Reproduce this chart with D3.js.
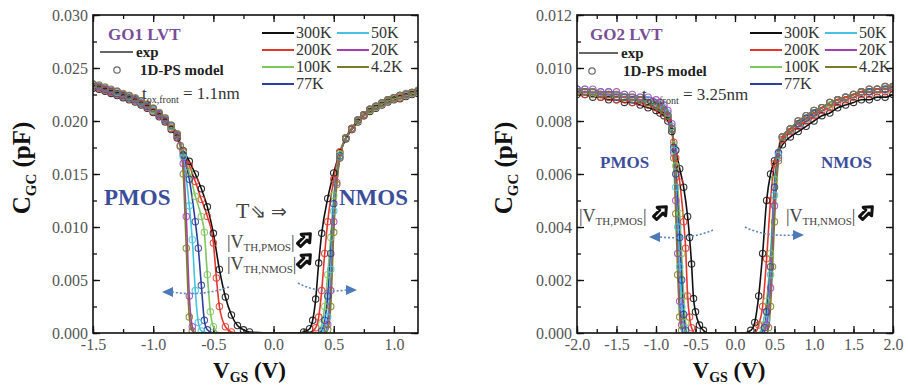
<!DOCTYPE html>
<head>
  <meta charset="utf-8">
  <script src="https://d3js.org/d3.v7.min.js"></script>
  <style>
    body {
      margin: 0;
      background: #fff;
      font-family: "Liberation Serif", "Times New Roman", serif;
    }
    .tick text {
      fill: #555;
      font-size: 16px;
      font-family: "Liberation Serif", serif;
    }
    .tick line {
      stroke: #111;
      stroke-width: 1.3;
    }
    .domain {
      display: none;
    }
  </style>
</head>

<body>
  <svg id="chart" width="908" height="387"></svg>

  <script>
    var temps = ["300K", "200K", "100K", "77K", "50K", "20K", "4.2K"];
    var colors = ["#111111", "#e5362c", "#80c660", "#2d3f9c", "#43c3df", "#a43fb2", "#7c7a2c"];

    var go1XTicks = [-1.5, -1.0, -0.5, 0.0, 0.5, 1.0];
    var go1YTicks = [0, 0.005, 0.010, 0.015, 0.020, 0.025, 0.030];
    var go2XTicks = [-2.0, -1.5, -1.0, -0.5, 0.0, 0.5, 1.0, 1.5, 2.0];
    var go2YTicks = [0, 0.002, 0.004, 0.006, 0.008, 0.010, 0.012];

    // GO1 LVT, [VGS (V), CGC (pF)]
    var go1_300K = [[-1.5,.0231],[-1.45,.0230],[-1.4,.0228],[-1.35,.0226],[-1.3,.0224],[-1.25,.0222],[-1.2,.0220],[-1.15,.0218],[-1.1,.0215],[-1.05,.0212],[-1.0,.0208],[-0.95,.0204],[-0.9,.0199],[-0.85,.0192],[-0.8,.0184],[-0.75,.0172],[-0.7,.0162],[-0.65,.0150],[-0.6,.0136],[-0.55,.0119],[-0.5,.0094],[-0.45,.0060],[-0.4,.0034],[-0.35,.0017],[-0.3,.0007],[-0.25,.0003],[-0.2,.0001],[0,0],[0.2,0],[0.25,.0001],[0.3,.0004],[0.325,.0012],[0.35,.0032],[0.375,.0066],[0.4,.0094],[0.45,.0127],[0.5,.0151],[0.55,.0170],[0.6,.0183],[0.65,.0192],[0.7,.0199],[0.75,.0205],[0.8,.0209],[0.85,.0212],[0.9,.0215],[0.95,.0218],[1.0,.0220],[1.05,.0221],[1.1,.0223],[1.15,.0225],[1.2,.0226]];
    var go1_200K = [[-1.5,.0232],[-1.45,.0231],[-1.4,.0229],[-1.35,.0227],[-1.3,.0225],[-1.25,.0223],[-1.2,.0221],[-1.15,.0219],[-1.1,.0216],[-1.05,.0213],[-1.0,.0209],[-0.95,.0205],[-0.9,.0200],[-0.85,.0193],[-0.8,.0185],[-0.75,.0171],[-0.7,.0158],[-0.65,.0143],[-0.6,.0126],[-0.55,.0110],[-0.5,.0085],[-0.475,.0052],[-0.45,.0025],[-0.4,.0006],[-0.35,.0001],[-0.3,0],[0,0],[0.3,0],[0.35,.0005],[0.375,.0015],[0.4,.0040],[0.425,.0075],[0.45,.0105],[0.5,.0145],[0.55,.0171],[0.6,.0184],[0.65,.0192],[0.7,.0200],[0.75,.0205],[0.8,.0210],[0.85,.0213],[0.9,.0216],[0.95,.0219],[1.0,.0221],[1.05,.0222],[1.1,.0224],[1.15,.0226],[1.2,.0227]];
    var go1_100K = [[-1.5,.0233],[-1.45,.0232],[-1.4,.0230],[-1.35,.0228],[-1.3,.0226],[-1.25,.0224],[-1.2,.0222],[-1.15,.0220],[-1.1,.0217],[-1.05,.0214],[-1.0,.0210],[-0.95,.0206],[-0.9,.0201],[-0.85,.0194],[-0.8,.0186],[-0.75,.0170],[-0.7,.0152],[-0.65,.0129],[-0.6,.0110],[-0.575,.0095],[-0.55,.0055],[-0.525,.0020],[-0.5,.0006],[-0.45,0],[0,0],[0.375,0],[0.4,.0008],[0.425,.0025],[0.45,.0055],[0.475,.0090],[0.5,.0130],[0.55,.0169],[0.6,.0184],[0.65,.0193],[0.7,.0200],[0.75,.0206],[0.8,.0210],[0.85,.0213],[0.9,.0216],[0.95,.0219],[1.0,.0221],[1.05,.0223],[1.1,.0224],[1.15,.0226],[1.2,.0227]];
    var go1_77K = [[-1.5,.0233],[-1.45,.0232],[-1.4,.0230],[-1.35,.0228],[-1.3,.0226],[-1.25,.0224],[-1.2,.0222],[-1.15,.0220],[-1.1,.0217],[-1.05,.0214],[-1.0,.0211],[-0.95,.0206],[-0.9,.0201],[-0.85,.0195],[-0.8,.0186],[-0.75,.0168],[-0.7,.0145],[-0.65,.0105],[-0.625,.0080],[-0.6,.0045],[-0.575,.0012],[-0.55,.0003],[-0.5,0],[0,0],[0.375,0],[0.4,.0002],[0.425,.0012],[0.45,.0035],[0.475,.0075],[0.5,.0122],[0.55,.0167],[0.6,.0184],[0.65,.0193],[0.7,.0201],[0.75,.0206],[0.8,.0211],[0.85,.0214],[0.9,.0217],[0.95,.0220],[1.0,.0222],[1.05,.0224],[1.1,.0225],[1.15,.0227],[1.2,.0228]];
    var go1_50K = [[-1.5,.0234],[-1.45,.0233],[-1.4,.0231],[-1.35,.0229],[-1.3,.0227],[-1.25,.0225],[-1.2,.0223],[-1.15,.0221],[-1.1,.0218],[-1.05,.0215],[-1.0,.0211],[-0.95,.0207],[-0.9,.0202],[-0.85,.0195],[-0.8,.0187],[-0.75,.0166],[-0.7,.0120],[-0.675,.0088],[-0.65,.0040],[-0.625,.0010],[-0.6,.0002],[-0.55,0],[0,0],[0.4,0],[0.425,.0005],[0.45,.0015],[0.475,.0060],[0.5,.0115],[0.55,.0166],[0.6,.0184],[0.65,.0193],[0.7,.0201],[0.75,.0206],[0.8,.0211],[0.85,.0214],[0.9,.0217],[0.95,.0220],[1.0,.0222],[1.05,.0224],[1.1,.0225],[1.15,.0227],[1.2,.0228]];
    var go1_20K = [[-1.5,.0235],[-1.45,.0233],[-1.4,.0231],[-1.35,.0229],[-1.3,.0228],[-1.25,.0225],[-1.2,.0224],[-1.15,.0221],[-1.1,.0219],[-1.05,.0215],[-1.0,.0212],[-0.95,.0207],[-0.9,.0202],[-0.85,.0196],[-0.8,.0187],[-0.775,.0177],[-0.75,.0160],[-0.725,.0110],[-0.7,.0035],[-0.675,.0006],[-0.65,0],[0,0],[0.425,0],[0.45,.0008],[0.475,.0040],[0.5,.0105],[0.525,.0142],[0.55,.0165],[0.6,.0184],[0.65,.0193],[0.7,.0201],[0.75,.0206],[0.8,.0211],[0.85,.0214],[0.9,.0217],[0.95,.0220],[1.0,.0222],[1.05,.0224],[1.1,.0225],[1.15,.0227],[1.2,.0228]];
    var go1_4K = [[-1.5,.0235],[-1.45,.0234],[-1.4,.0232],[-1.35,.0230],[-1.3,.0228],[-1.25,.0226],[-1.2,.0224],[-1.15,.0222],[-1.1,.0219],[-1.05,.0216],[-1.0,.0212],[-0.95,.0208],[-0.9,.0203],[-0.85,.0196],[-0.8,.0188],[-0.775,.0176],[-0.75,.0150],[-0.725,.0080],[-0.7,.0015],[-0.675,.0002],[-0.65,0],[0,0],[0.425,0],[0.45,.0003],[0.475,.0025],[0.5,.0095],[0.525,.0140],[0.55,.0165],[0.6,.0184],[0.65,.0193],[0.7,.0201],[0.75,.0206],[0.8,.0211],[0.85,.0214],[0.9,.0217],[0.95,.0220],[1.0,.0222],[1.05,.0224],[1.1,.0226],[1.15,.0227],[1.2,.0229]];

    // GO2 LVT, [VGS (V), CGC (pF)]
    var go2_300K = [[-2.0,.0090],[-1.9,.0090],[-1.8,.0089],[-1.7,.0089],[-1.6,.0088],[-1.5,.0088],[-1.4,.0087],[-1.3,.0087],[-1.2,.0086],[-1.1,.0085],[-1.0,.0084],[-0.95,.0083],[-0.9,.0082],[-0.85,.0080],[-0.8,.0076],[-0.75,.0069],[-0.7,.0062],[-0.65,.0055],[-0.6,.0044],[-0.575,.0036],[-0.55,.0026],[-0.525,.0013],[-0.5,.0008],[-0.45,.0003],[-0.4,.0001],[-0.35,0],[0,0],[0.1,0],[0.2,.0001],[0.25,.0004],[0.3,.0014],[0.35,.0030],[0.4,.0050],[0.45,.0060],[0.5,.0065],[0.6,.0071],[0.7,.0074],[0.8,.0076],[0.9,.0078],[1.0,.0080],[1.1,.0082],[1.2,.0083],[1.3,.0085],[1.4,.0086],[1.5,.0087],[1.6,.0088],[1.7,.0088],[1.8,.0089],[1.9,.0089],[2.0,.0090]];
    var go2_200K = [[-2.0,.0091],[-1.9,.0090],[-1.8,.0090],[-1.7,.0089],[-1.6,.0089],[-1.5,.0088],[-1.4,.0088],[-1.3,.0087],[-1.2,.0087],[-1.1,.0086],[-1.0,.0085],[-0.95,.0084],[-0.9,.0083],[-0.85,.0081],[-0.8,.0077],[-0.775,.0072],[-0.75,.0066],[-0.7,.0057],[-0.65,.0042],[-0.625,.0032],[-0.6,.0014],[-0.575,.0006],[-0.55,.0002],[-0.5,0],[0,0],[0.25,0],[0.3,.0003],[0.35,.0010],[0.4,.0028],[0.45,.0050],[0.5,.0064],[0.6,.0073],[0.7,.0076],[0.8,.0078],[0.9,.0080],[1.0,.0082],[1.1,.0084],[1.2,.0085],[1.3,.0087],[1.4,.0088],[1.5,.0089],[1.6,.0090],[1.7,.0090],[1.8,.0091],[1.9,.0091],[2.0,.0092]];
    var go2_100K = [[-2.0,.0091],[-1.9,.0091],[-1.8,.0090],[-1.7,.0090],[-1.6,.0090],[-1.5,.0089],[-1.4,.0089],[-1.3,.0088],[-1.2,.0088],[-1.1,.0087],[-1.0,.0086],[-0.95,.0085],[-0.9,.0084],[-0.85,.0082],[-0.8,.0077],[-0.775,.0071],[-0.75,.0063],[-0.7,.0045],[-0.675,.0030],[-0.65,.0014],[-0.625,.0004],[-0.6,0],[0,0],[0.3,0],[0.35,.0003],[0.4,.0012],[0.45,.0030],[0.5,.0058],[0.55,.0068],[0.6,.0074],[0.7,.0077],[0.8,.0079],[0.9,.0081],[1.0,.0083],[1.1,.0085],[1.2,.0086],[1.3,.0088],[1.4,.0089],[1.5,.0090],[1.6,.0091],[1.7,.0091],[1.8,.0092],[1.9,.0092],[2.0,.0093]];
    var go2_77K = [[-2.0,.0092],[-1.9,.0091],[-1.8,.0091],[-1.7,.0090],[-1.6,.0090],[-1.5,.0089],[-1.4,.0089],[-1.3,.0088],[-1.2,.0088],[-1.1,.0087],[-1.0,.0086],[-0.95,.0085],[-0.9,.0084],[-0.85,.0082],[-0.8,.0077],[-0.775,.0070],[-0.75,.0060],[-0.7,.0036],[-0.675,.0020],[-0.65,.0007],[-0.625,.0001],[-0.6,0],[0,0],[0.3,0],[0.375,.0002],[0.4,.0008],[0.45,.0025],[0.5,.0055],[0.55,.0068],[0.6,.0074],[0.7,.0077],[0.8,.0079],[0.9,.0081],[1.0,.0083],[1.1,.0085],[1.2,.0087],[1.3,.0088],[1.4,.0089],[1.5,.0090],[1.6,.0091],[1.7,.0091],[1.8,.0092],[1.9,.0092],[2.0,.0093]];
    var go2_50K = [[-2.0,.0092],[-1.9,.0092],[-1.8,.0091],[-1.7,.0091],[-1.6,.0091],[-1.5,.0090],[-1.4,.0090],[-1.3,.0089],[-1.2,.0089],[-1.1,.0088],[-1.0,.0087],[-0.95,.0086],[-0.9,.0085],[-0.85,.0083],[-0.8,.0078],[-0.775,.0069],[-0.75,.0055],[-0.725,.0040],[-0.7,.0025],[-0.675,.0010],[-0.65,.0002],[-0.6,0],[0,0],[0.3,0],[0.4,.0005],[0.45,.0022],[0.5,.0052],[0.55,.0067],[0.6,.0074],[0.7,.0077],[0.8,.0080],[0.9,.0082],[1.0,.0084],[1.1,.0085],[1.2,.0087],[1.3,.0088],[1.4,.0089],[1.5,.0090],[1.6,.0091],[1.7,.0092],[1.8,.0092],[1.9,.0093],[2.0,.0093]];
    var go2_20K = [[-2.0,.0092],[-1.9,.0092],[-1.8,.0092],[-1.7,.0091],[-1.6,.0091],[-1.5,.0091],[-1.4,.0090],[-1.3,.0090],[-1.2,.0089],[-1.1,.0089],[-1.0,.0088],[-0.95,.0087],[-0.9,.0086],[-0.85,.0084],[-0.8,.0079],[-0.775,.0068],[-0.75,.0050],[-0.725,.0030],[-0.7,.0012],[-0.675,.0003],[-0.65,0],[0,0],[0.35,0],[0.4,.0003],[0.45,.0017],[0.5,.0048],[0.55,.0066],[0.6,.0074],[0.7,.0077],[0.8,.0080],[0.9,.0082],[1.0,.0084],[1.1,.0085],[1.2,.0087],[1.3,.0088],[1.4,.0089],[1.5,.0090],[1.6,.0091],[1.7,.0092],[1.8,.0092],[1.9,.0093],[2.0,.0093]];
    var go2_4K = [[-2.0,.0091],[-1.9,.0091],[-1.8,.0091],[-1.7,.0090],[-1.6,.0090],[-1.5,.0090],[-1.4,.0089],[-1.3,.0089],[-1.2,.0088],[-1.1,.0087],[-1.0,.0086],[-0.95,.0085],[-0.9,.0084],[-0.85,.0082],[-0.8,.0077],[-0.775,.0066],[-0.75,.0045],[-0.725,.0022],[-0.7,.0006],[-0.675,.0001],[-0.65,0],[0,0],[0.4,0],[0.425,.0002],[0.45,.0010],[0.475,.0025],[0.5,.0042],[0.55,.0065],[0.6,.0074],[0.7,.0077],[0.8,.0080],[0.9,.0082],[1.0,.0084],[1.1,.0085],[1.2,.0087],[1.3,.0088],[1.4,.0089],[1.5,.0090],[1.6,.0091],[1.7,.0092],[1.8,.0092],[1.9,.0093],[2.0,.0093]];

    var go1Curves = [go1_300K, go1_200K, go1_100K, go1_77K, go1_50K, go1_20K, go1_4K];
    var go2Curves = [go2_300K, go2_200K, go2_100K, go2_77K, go2_50K, go2_20K, go2_4K];

    var svg = d3.select("#chart");
    var serif = "Liberation Serif, Times New Roman, serif";

    function addSub(sel, main, sub, rest, subSize, shift) {
      sel.append("tspan").text(main);
      sel.append("tspan").attr("font-size", subSize).attr("dy", shift).text(sub);
      sel.append("tspan").attr("dy", -shift).text(rest);
    }

    function blackArrow(x0, y0) {
      svg.append("path")
        .attr("transform", "translate(" + x0 + "," + y0 + ") rotate(-45)")
        .attr("d", "M-7,-2.2 L2,-2.2 L2,-6 L9,0 L2,6 L2,2.2 L-7,2.2 Z")
        .attr("fill", "#fff")
        .attr("stroke", "#111")
        .attr("stroke-width", 3)
        .attr("stroke-linejoin", "round");
    }

    function blueArrow(pts, dir) {
      svg.append("path")
        .attr("d", "M" + pts[0] + " Q" + pts[1] + " " + pts[2])
        .attr("fill", "none")
        .attr("stroke", "#5a86c2")
        .attr("stroke-width", 1.6)
        .attr("stroke-dasharray", "2,2");
      var tip = pts[2];
      svg.append("path")
        .attr("transform", "translate(" + tip[0] + "," + tip[1] + ") scale(" + dir + ",1)")
        .attr("d", "M0,-5 L11,0 L0,5 Z")
        .attr("fill", "#4d7ab8");
    }

    function panel(o) {
      var x = d3.scaleLinear().domain(o.xDomain).range([o.left, o.right]);
      var y = d3.scaleLinear().domain(o.yDomain).range([o.bottom, o.top]);
      var g = svg.append("g");

      var clipId = "clip" + o.id;
      svg.append("clipPath").attr("id", clipId)
        .append("rect")
        .attr("x", o.left).attr("y", o.top)
        .attr("width", o.right - o.left).attr("height", o.bottom - o.top);

      var xMinor = d3.range(o.xDomain[0], o.xDomain[1] + 1e-9, o.xMinorStep);
      var yMinor = d3.range(o.yDomain[0], o.yDomain[1] + 1e-9, o.yMinorStep);
      var fx = function(d) { return d.toFixed(1); };
      var fy = function(d) { return d.toFixed(3); };

      // minor ticks, all four sides
      g.append("g").attr("transform", "translate(0," + o.bottom + ")")
        .call(d3.axisBottom(x).tickValues(xMinor).tickSize(-4).tickFormat(""));
      g.append("g").attr("transform", "translate(0," + o.top + ")")
        .call(d3.axisTop(x).tickValues(xMinor).tickSize(-4).tickFormat(""));
      g.append("g").attr("transform", "translate(" + o.left + ",0)")
        .call(d3.axisLeft(y).tickValues(yMinor).tickSize(-4).tickFormat(""));
      g.append("g").attr("transform", "translate(" + o.right + ",0)")
        .call(d3.axisRight(y).tickValues(yMinor).tickSize(-4).tickFormat(""));

      // major ticks
      g.append("g").attr("transform", "translate(0," + o.bottom + ")")
        .call(d3.axisBottom(x).tickValues(o.xTicks).tickSize(-7).tickPadding(6).tickFormat(fx));
      g.append("g").attr("transform", "translate(0," + o.top + ")")
        .call(d3.axisTop(x).tickValues(o.xTicks).tickSize(-7).tickFormat(""));
      g.append("g").attr("transform", "translate(" + o.left + ",0)")
        .call(d3.axisLeft(y).tickValues(o.yTicks).tickSize(-7).tickPadding(5).tickFormat(fy));
      g.append("g").attr("transform", "translate(" + o.right + ",0)")
        .call(d3.axisRight(y).tickValues(o.yTicks).tickSize(-7).tickFormat(""));

      var line = d3.line()
        .x(function(d) { return x(d[0]); })
        .y(function(d) { return y(d[1]); })
        .curve(d3.curveMonotoneX);

      var plot = g.append("g").attr("clip-path", "url(#" + clipId + ")");
      o.curves.forEach(function(c, i) {
        plot.append("path")
          .attr("d", line(c))
          .attr("fill", "none")
          .attr("stroke", colors[i])
          .attr("stroke-width", 1.6);
      });
      o.curves.forEach(function(c, i) {
        plot.selectAll(null)
          .data(c.filter(function(d) { return d[1] > 0; }))
          .enter().append("circle")
          .attr("cx", function(d) { return x(d[0]); })
          .attr("cy", function(d) { return y(d[1]); })
          .attr("r", 3.2)
          .attr("fill", "none")
          .attr("stroke", colors[i])
          .attr("stroke-width", 1.1)
          .attr("stroke-opacity", 0.85);
      });

      g.append("rect")
        .attr("x", o.left).attr("y", o.top)
        .attr("width", o.right - o.left).attr("height", o.bottom - o.top)
        .attr("fill", "none")
        .attr("stroke", "#111")
        .attr("stroke-width", 1.6);

      // axis titles
      var yt = svg.append("text")
        .attr("transform", "translate(" + o.yTitleX + "," + ((o.top + o.bottom) / 2 - 6) + ") rotate(-90)")
        .attr("text-anchor", "middle")
        .attr("font-family", serif).attr("font-weight", "bold").attr("font-size", "25px")
        .attr("fill", "#111");
      addSub(yt, "C", "GC", " (pF)", "15px", 6);

      var xt = svg.append("text")
        .attr("x", (o.left + o.right) / 2 - 6).attr("y", 378)
        .attr("text-anchor", "middle")
        .attr("font-family", serif).attr("font-weight", "bold").attr("font-size", "23px")
        .attr("fill", "#111");
      addSub(xt, "V", "GS", " (V)", "14px", 4);

      // title and model legend
      svg.append("text")
        .attr("x", o.leg.title[0]).attr("y", o.leg.title[1])
        .attr("font-family", serif).attr("font-weight", "bold").attr("font-size", "17px")
        .attr("fill", "#7a4d98").text(o.name);
      svg.append("line")
        .attr("x1", o.leg.exp[0]).attr("x2", o.leg.exp[1])
        .attr("y1", o.leg.exp[2]).attr("y2", o.leg.exp[2])
        .attr("stroke", "#333").attr("stroke-width", 1.6);
      svg.append("text")
        .attr("x", o.leg.exp[1] + 3).attr("y", o.leg.exp[2] + 5)
        .attr("font-family", serif).attr("font-weight", "bold").attr("font-size", "15px")
        .attr("fill", "#222").text("exp");
      svg.append("circle")
        .attr("cx", o.leg.model[0]).attr("cy", o.leg.model[1]).attr("r", 3.2)
        .attr("fill", "none").attr("stroke", "#666").attr("stroke-width", 1.2);
      svg.append("text")
        .attr("x", o.leg.model[2]).attr("y", o.leg.model[1] + 5)
        .attr("font-family", serif).attr("font-weight", "bold").attr("font-size", "15px")
        .attr("fill", "#222").text("1D-PS model");
      var tox = svg.append("text")
        .attr("x", o.leg.tox[0]).attr("y", o.leg.tox[1])
        .attr("font-family", serif).attr("font-size", "17px").attr("fill", "#333");
      addSub(tox, "t", "ox,front", " = " + o.tox, "10px", 4);

      // temperature legend
      temps.forEach(function(t, i) {
        var col = i < 4 ? 0 : 1;
        var row = i < 4 ? i : i - 4;
        var lx = o.leg.tcol[col];
        var ly = o.leg.trow[row];
        svg.append("line")
          .attr("x1", lx).attr("x2", lx + 32).attr("y1", ly).attr("y2", ly)
          .attr("stroke", colors[i]).attr("stroke-width", 2);
        svg.append("text")
          .attr("x", lx + 34).attr("y", ly + 5)
          .attr("font-family", serif).attr("font-size", "16px").attr("fill", "#333")
          .text(t);
      });

      // device labels
      o.dev.forEach(function(d) {
        svg.append("text")
          .attr("x", d[1]).attr("y", d[2])
          .attr("font-family", serif).attr("font-weight", "bold").attr("font-size", d[3])
          .attr("fill", "#3b4d9b").text(d[0]);
      });

      // threshold labels
      o.vth.forEach(function(d) {
        var t = svg.append("text")
          .attr("x", d[1]).attr("y", d[2])
          .attr("font-family", serif).attr("font-size", "18px").attr("fill", "#444");
        t.append("tspan").text("|V");
        t.append("tspan").attr("font-size", "11px").attr("dy", 3).text(d[0]);
        t.append("tspan").attr("dy", -3).text("|");
        blackArrow(d[3], d[4]);
      });

      o.blue.forEach(function(b) { blueArrow(b[0], b[1]); });
    }

    panel({
      id: 1, name: "GO1 LVT", tox: "1.1nm",
      left: 93, right: 418, top: 15, bottom: 333,
      xDomain: [-1.5, 1.2], yDomain: [0, 0.030],
      xTicks: go1XTicks, yTicks: go1YTicks,
      xMinorStep: 0.25, yMinorStep: 0.0025,
      curves: go1Curves,
      yTitleX: 30,
      leg: {
        title: [108, 40], exp: [100, 133, 52], model: [117, 70, 140], tox: [142, 99],
        tcol: [262, 337], trow: [33, 50, 67, 84]
      },
      dev: [["PMOS", 104, 205, "23px"], ["NMOS", 339, 205, "23px"]],
      vth: [["TH,PMOS", 227, 248, 304, 240], ["TH,NMOS", 227, 270, 304, 261]],
      blue: [[[[229, 287], [200, 297], [173, 292]], -1], [[[298, 283], [318, 294], [346, 290]], 1]]
    });

    panel({
      id: 2, name: "GO2 LVT", tox: "3.25nm",
      left: 577, right: 893, top: 15, bottom: 333,
      xDomain: [-2.0, 2.0], yDomain: [0, 0.012],
      xTicks: go2XTicks, yTicks: go2YTicks,
      xMinorStep: 0.25, yMinorStep: 0.001,
      curves: go2Curves,
      yTitleX: 512,
      leg: {
        title: [590, 40], exp: [579, 618, 53], model: [592, 71, 623], tox: [642, 100],
        tcol: [750, 825], trow: [33, 50, 67, 84]
      },
      dev: [["PMOS", 600, 168, "17px"], ["NMOS", 821, 168, "17px"]],
      vth: [["TH,PMOS", 579, 222, 660, 213], ["TH,NMOS", 786, 222, 866, 213]],
      blue: [[[[713, 230], [690, 240], [660, 237]], -1], [[[745, 227], [765, 237], [793, 235]], 1]]
    });

    // T arrow note (left panel)
    svg.append("text").attr("x", 236).attr("y", 218)
      .attr("font-family", serif).attr("font-size", "22px").attr("fill", "#444").text("T");
    svg.append("text").attr("x", 250).attr("y", 218)
      .attr("font-family", "DejaVu Sans").attr("font-size", "19px").attr("fill", "#444").text("\u21d8");
    svg.append("text").attr("x", 271).attr("y", 218)
      .attr("font-family", "DejaVu Sans").attr("font-size", "19px").attr("fill", "#444").text("\u21d2");
  </script>
</body>
